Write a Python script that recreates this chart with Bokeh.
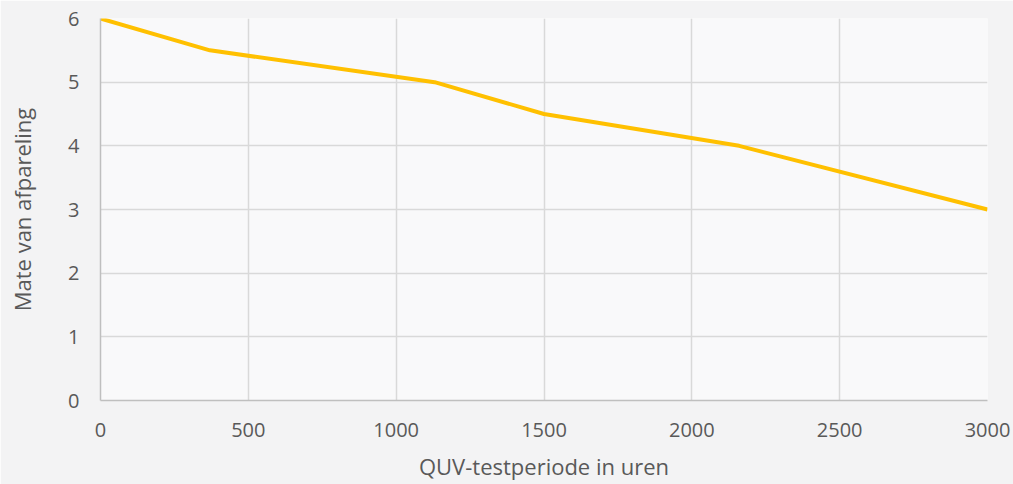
from bokeh.plotting import figure
from bokeh.embed import file_html
from bokeh.resources import INLINE
from bokeh.models import FixedTicker

hours = [0, 370, 1130, 1500, 2160, 3000]
beading = [6.0, 5.5, 5.0, 4.5, 4.0, 3.0]
x_ticks = [0, 500, 1000, 1500, 2000, 2500, 3000]
y_ticks = [0, 1, 2, 3, 4, 5, 6]

p = figure(width=1013, height=484, output_backend="svg", toolbar_location=None,
           x_range=(0, 3000), y_range=(0, 6),
           min_border_left=100, min_border_right=26, min_border_top=18, min_border_bottom=84)
p.outline_line_color = None
p.background_fill_color = "#F9F9FA"
p.border_fill_color = "#F3F3F4"

p.line(hours, beading, line_color="#FFC000", line_width=4)

font = "Open Sans"
for ax in (p.xaxis[0], p.yaxis[0]):
    ax.major_tick_line_color = None
    ax.minor_tick_line_color = None
    ax.axis_line_color = "#BFBFBF"
    ax.axis_line_width = 1.5
    ax.major_label_text_font = font
    ax.major_label_text_font_size = "20px"
    ax.major_label_text_color = "#595959"
    ax.axis_label_text_font = font
    ax.axis_label_text_font_size = "22px"
    ax.axis_label_text_font_style = "normal"
    ax.axis_label_text_color = "#595959"

p.xaxis.ticker = FixedTicker(ticks=x_ticks)
p.yaxis.ticker = FixedTicker(ticks=y_ticks)
p.xaxis.axis_label = "QUV-testperiode in uren"
p.yaxis.axis_label = "Mate van afpareling"
p.xaxis.major_label_standoff = 16
p.xaxis.axis_label_standoff = 11
p.yaxis.major_label_standoff = 15
p.yaxis.axis_label_standoff = 28

p.xgrid.grid_line_color = "#D9D9D9"
p.ygrid.grid_line_color = "#D9D9D9"
p.xgrid.grid_line_width = 1.5
p.ygrid.grid_line_width = 1.5

open("out.html", "w").write(file_html(p, INLINE))
